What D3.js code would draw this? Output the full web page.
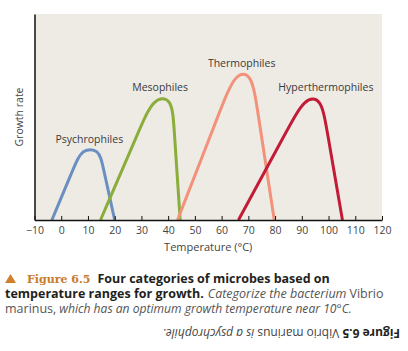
<!DOCTYPE html>
<html>
<head>
    <title>Four categories of microbes</title>
    <script src="https://d3js.org/d3.v7.min.js"></script>
    <style>
        body { margin: 0; background: #fff; }
        text { font-family: "Open Sans", sans-serif; }
    </style>
</head>
<body>
    <script>
        // Growth curves (temperature in degC, growth rate 0..1), control points
        const categories = ["Psychrophiles", "Mesophiles", "Thermophiles", "Hyperthermophiles"];
        const psychroTemp = [-3.5, 4.9, 7.7, 14.2, 15.6, 20];
        const psychroGrowth = [0, 0.26, 0.345, 0.345, 0.26, 0];
        const mesoTemp = [14.7, 29.5, 34.5, 41.5, 42.2, 44.5];
        const mesoGrowth = [0, 0.446, 0.595, 0.595, 0.446, 0];
        const thermoTemp = [43.5, 59.6, 65.0, 71.3, 73.4, 79.7];
        const thermoGrowth = [0, 0.536, 0.715, 0.715, 0.536, 0];
        const hyperTemp = [66.3, 84.9, 91.1, 97.3, 99.3, 105.2];
        const hyperGrowth = [0, 0.445, 0.593, 0.593, 0.445, 0];
        const colors = ["#6b8fc0", "#8aad3b", "#f2927b", "#c31b35"];
        // where each label sits (temperature, growth)
        const labelTemp = [10.5, 37, 67.5, 99];
        const labelGrowth = [0.375, 0.625, 0.745, 0.625];

        const xTicks = [-10, 0, 10, 20, 30, 40, 50, 60, 70, 80, 90, 100, 110, 120];

        const width = 408, height = 351;
        const margin = { top: 14, right: 26, bottom: 131, left: 34.5 };
        const plotW = width - margin.left - margin.right;
        const plotH = height - margin.top - margin.bottom;

        const svg = d3.select("body").append("svg")
            .attr("width", width)
            .attr("height", height);

        const g = svg.append("g")
            .attr("transform", `translate(${margin.left},${margin.top})`);

        const x = d3.scaleLinear().domain([-10, 120]).range([0, plotW]);
        const y = d3.scaleLinear().domain([0, 1]).range([plotH, 0]);

        // plot background
        g.append("rect")
            .attr("width", plotW)
            .attr("height", plotH)
            .attr("fill", "#eeebe5");

        const series = [
            [psychroTemp, psychroGrowth],
            [mesoTemp, mesoGrowth],
            [thermoTemp, thermoGrowth],
            [hyperTemp, hyperGrowth]
        ].map(([t, gr], i) => ({
            name: categories[i],
            color: colors[i],
            points: t.map((v, j) => ({ t: v, g: gr[j] }))
        }));

        const line = d3.line()
            .x(d => x(d.t))
            .y(d => y(d.g))
            .curve(d3.curveBasis);

        g.selectAll(".curve")
            .data(series)
            .enter()
            .append("path")
            .attr("class", "curve")
            .attr("d", d => line(d.points))
            .attr("fill", "none")
            .attr("stroke", d => d.color)
            .attr("stroke-width", 3);

        g.selectAll(".lbl")
            .data(series)
            .enter()
            .append("text")
            .attr("class", "lbl")
            .attr("x", (d, i) => x(labelTemp[i]))
            .attr("y", (d, i) => y(labelGrowth[i]))
            .attr("text-anchor", "middle")
            .attr("font-size", 10.5)
            .attr("fill", "#3a3a3a")
            .text(d => d.name);

        // x axis, ticks point up into the plot
        const xAxis = d3.axisBottom(x)
            .tickValues(xTicks)
            .tickSizeInner(-4)
            .tickSizeOuter(0)
            .tickPadding(7)
            .tickFormat(d => d < 0 ? "\u2212" + Math.abs(d) : d);
        const xg = g.append("g")
            .attr("transform", `translate(0,${plotH})`)
            .call(xAxis);
        xg.select(".domain").attr("stroke", "#111").attr("stroke-width", 1.5);
        xg.selectAll(".tick line").attr("stroke", "#111");
        xg.selectAll(".tick text")
            .attr("font-size", 10.5)
            .attr("fill", "#444")
            .style("font-family", "'Open Sans', sans-serif");

        // y axis: just the line
        const yg = g.append("g")
            .call(d3.axisLeft(y).tickValues([]).tickSizeOuter(0));
        yg.select(".domain").attr("stroke", "#111").attr("stroke-width", 1.5);

        g.append("text")
            .attr("x", plotW / 2)
            .attr("y", plotH + 31)
            .attr("text-anchor", "middle")
            .attr("font-size", 11)
            .attr("fill", "#444")
            .text("Temperature (\u00B0C)");

        g.append("text")
            .attr("transform", `translate(-12,${plotH / 2}) rotate(-90)`)
            .attr("text-anchor", "middle")
            .attr("font-size", 10.5)
            .attr("fill", "#444")
            .text("Growth rate");

        // caption
        const cap = svg.append("g");
        cap.append("path")
            .attr("d", "M5,283 L10.5,274 L16,283 Z")
            .attr("fill", "#d0802c");

        const l1 = cap.append("text").attr("x", 27).attr("y", 283).attr("font-size", 12.5);
        l1.append("tspan")
            .attr("font-family", "'DejaVu Serif', serif")
            .attr("font-weight", "bold")
            .attr("font-size", 11)
            .attr("fill", "#c87a2c")
            .text("Figure 6.5");
        l1.append("tspan")
            .attr("font-weight", "bold")
            .attr("fill", "#231f20")
            .attr("dx", 7)
            .text("Four categories of microbes based on");

        const l2 = cap.append("text").attr("x", 5).attr("y", 298).attr("font-size", 12.5);
        l2.append("tspan").attr("font-weight", "bold").attr("fill", "#231f20")
            .text("temperature ranges for growth.");
        l2.append("tspan").attr("font-style", "italic").attr("fill", "#555")
            .attr("dx", 4).text("Categorize the bacterium");
        l2.append("tspan").attr("fill", "#555").attr("dx", 3).text("Vibrio");

        const l3 = cap.append("text").attr("x", 5).attr("y", 313).attr("font-size", 12.5);
        l3.append("tspan").attr("fill", "#555").text("marinus,");
        l3.append("tspan").attr("font-style", "italic").attr("fill", "#555")
            .attr("font-size", 12.1)
            .attr("dx", 3).text("which has an optimum growth temperature near 10\u00B0C.");

        // upside-down answer line
        const l4 = cap.append("text")
            .attr("transform", "translate(400,329) rotate(180)")
            .attr("font-size", 12);
        l4.append("tspan").attr("font-weight", "bold").attr("fill", "#231f20").text("Figure 6.5");
        l4.append("tspan").attr("fill", "#444").attr("dx", 3).text("Vibrio marinus");
        l4.append("tspan").attr("font-style", "italic").attr("fill", "#444").attr("dx", 3).text("is a psychrophile.");
    </script>
</body>
</html>
